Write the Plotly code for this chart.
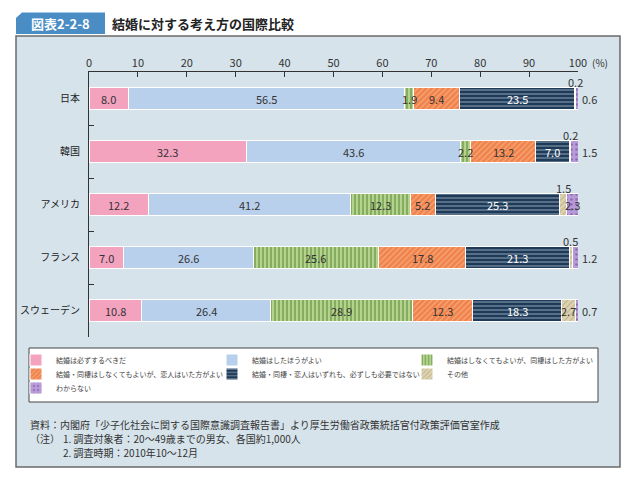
import plotly.graph_objects as go

countries = ["日本", "韓国", "アメリカ", "フランス", "スウェーデン"]
series_names = [
    "結婚は必ずするべきだ",
    "結婚はしたほうがよい",
    "結婚はしなくてもよいが、同棲はした方がよい",
    "結婚・同棲はしなくてもよいが、恋人はいた方がよい",
    "結婚・同棲・恋人はいずれも、必ずしも必要ではない",
    "その他",
    "わからない",
]
must_marry = [8.0, 32.3, 12.2, 7.0, 10.8]
better_marry = [56.5, 43.6, 41.2, 26.6, 26.4]
cohabit = [1.9, 2.2, 12.3, 25.6, 28.9]
partner = [9.4, 13.2, 5.2, 17.8, 12.3]
none_needed = [23.5, 7.0, 25.3, 21.3, 18.3]
other = [0.2, 0.2, 1.5, 0.5, 2.7]
dont_know = [0.6, 1.5, 2.3, 1.2, 0.7]
values = [must_marry, better_marry, cohabit, partner, none_needed, other, dont_know]
x_ticks = list(range(0, 101, 10))

styles = [
    dict(color="#f4a3bf", pattern=dict(shape="")),
    dict(color="#b9d0ec", pattern=dict(shape="")),
    dict(color="#a6c97c", pattern=dict(shape="|", fgcolor="#4e7d2c", bgcolor="#b4d48e", size=4, solidity=0.45)),
    dict(color="#f28a55", pattern=dict(shape="/", fgcolor="#fbd0b4", bgcolor="#f0824a", size=4, solidity=0.3)),
    dict(color="#1f3d5c", pattern=dict(shape="-", fgcolor="#dfe9f3", bgcolor="#1d3a58", size=4, solidity=0.3)),
    dict(color="#d6cba6", pattern=dict(shape="/", fgcolor="#a89868", bgcolor="#ddd3b2", size=4, solidity=0.3)),
    dict(color="#b99ad8", pattern=dict(shape=".", fgcolor="#5e3f86", bgcolor="#b99ad8", size=5, solidity=0.2)),
]
text_colors = ["#333", "#333", "#333", "#333", "#ffffff", "#333", "#333"]

# Page geometry (the page body adds an 8px offset, so the figure is 8px smaller)
OFF = 8
FIG_W, FIG_H = 635 - OFF, 491 - OFF
L, R, T, B = 89, 578, 72, 337          # plot area in page pixels
W, H = R - L, B - T
def px(xp):
    return (xp - L) / W
def py(yp):
    return (B - yp) / H

# legend cells (page pixels): text start x, row centre y
legend_cells = [(56, 360), (252, 360), (447, 360), (56, 374), (252, 374), (447, 374), (56, 388)]
legend_ids = ["legend"] + [f"legend{i}" for i in range(2, 8)]

fig = go.Figure()
for name, vals, st, lg in zip(series_names, values, styles, legend_ids):
    fig.add_trace(go.Bar(
        y=countries, x=vals, name=name, orientation="h", legend=lg,
        marker=dict(color=st["color"], pattern=st["pattern"], line=dict(color="white", width=1)),
        hoverinfo="x+name",
    ))

# Value labels
annotations = []
for ci, c in enumerate(countries):
    cum = 0.0
    for si, vals in enumerate(values):
        v = vals[ci]
        center = cum + v / 2
        cum += v
        label = f"{v:.1f}"
        if si >= 5 and v < 2:
            if si == 5:
                annotations.append(dict(x=center, y=c, xref="x", yref="y", text=label, showarrow=False,
                                        yshift=17, font=dict(size=11, color="#333")))
            else:
                annotations.append(dict(x=100, y=c, xref="x", yref="y", text=label, showarrow=False,
                                        xanchor="left", xshift=2, font=dict(size=11, color="#333")))
        else:
            annotations.append(dict(x=center, y=c, xref="x", yref="y", text=label, showarrow=False,
                                    font=dict(size=11, color=text_colors[si])))

note_font = dict(size=10, color="#333")
annotations += [
    dict(x=px(590), y=py(62), xref="paper", yref="paper", text="(%)", showarrow=False, xanchor="left",
         yanchor="middle", font=dict(size=10, color="#333")),
    dict(x=px(60.5), y=py(23.5), xref="paper", yref="paper", text="<b>図表2-2-8</b>", showarrow=False,
         xanchor="center", yanchor="middle", font=dict(size=13, color="white")),
    dict(x=px(110), y=py(23.5), xref="paper", yref="paper", text="<b>結婚に対する考え方の国際比較</b>", showarrow=False,
         xanchor="left", yanchor="middle", font=dict(size=13, color="#222")),
    dict(x=px(28), y=py(424), xref="paper", yref="paper",
         text="資料：内閣府「少子化社会に関する国際意識調査報告書」より厚生労働省政策統括官付政策評価官室作成",
         showarrow=False, xanchor="left", yanchor="middle", font=note_font),
    dict(x=px(28), y=py(438), xref="paper", yref="paper", text="（注）", showarrow=False,
         xanchor="left", yanchor="middle", font=note_font),
    dict(x=px(61), y=py(438), xref="paper", yref="paper", text="1. 調査対象者：20～49歳までの男女、各国約1,000人",
         showarrow=False, xanchor="left", yanchor="middle", font=note_font),
    dict(x=px(61), y=py(452), xref="paper", yref="paper", text="2. 調査時期：2010年10～12月",
         showarrow=False, xanchor="left", yanchor="middle", font=note_font),
]

shapes = [
    dict(type="rect", xref="paper", yref="paper", x0=px(16), x1=px(620), y0=py(467), y1=py(36),
         fillcolor="#d6e3eb", line=dict(color="#6b6b6b", width=1.5), layer="below"),
    dict(type="path", xref="paper", yref="paper",
         path=f"M {px(16)},{py(34)} L {px(16)},{py(18)} L {px(22)},{py(12.5)} L {px(105)},{py(12.5)} L {px(105)},{py(34)} Z",
         fillcolor="#4a8cc4", line=dict(width=0), layer="below"),
    dict(type="rect", xref="paper", yref="paper", x0=px(29), x1=px(598), y0=py(402), y1=py(348),
         fillcolor="white", line=dict(color="#444", width=1), layer="below"),
]

legends = {}
for lid, (tx, ty) in zip(legend_ids, legend_cells):
    legends[lid] = dict(orientation="v", x=px(tx - 40), y=py(ty), xanchor="left", yanchor="middle",
                        bgcolor="rgba(0,0,0,0)", borderwidth=0, font=dict(size=7, color="#444"),
                        itemwidth=30, tracegroupgap=0)

fig.update_layout(
    width=FIG_W, height=FIG_H,
    margin=dict(l=L - OFF, r=FIG_W - (R - OFF), t=T - OFF, b=FIG_H - (B - OFF), autoexpand=False),
    barmode="stack", bargap=0.6,
    paper_bgcolor="white", plot_bgcolor="white",
    font=dict(family="Noto Sans CJK JP, Noto Sans, sans-serif", color="#333"),
    xaxis=dict(side="top", range=[0, 100], tickvals=x_ticks, ticks="inside", ticklen=5, tickcolor="#333",
               showline=True, linecolor="#333", linewidth=1, showgrid=False, zeroline=False,
               tickfont=dict(size=11, color="#333")),
    yaxis=dict(categoryorder="array", categoryarray=countries, autorange="reversed",
               ticks="inside", tickson="boundaries", ticklen=5, tickcolor="#333",
               showline=True, linecolor="#333", linewidth=1, showgrid=False,
               ticklabelstandoff=6, tickfont=dict(size=10, color="#222")),
    annotations=annotations,
    shapes=shapes,
    showlegend=True,
    **legends,
)

fig.write_html("out.html")
